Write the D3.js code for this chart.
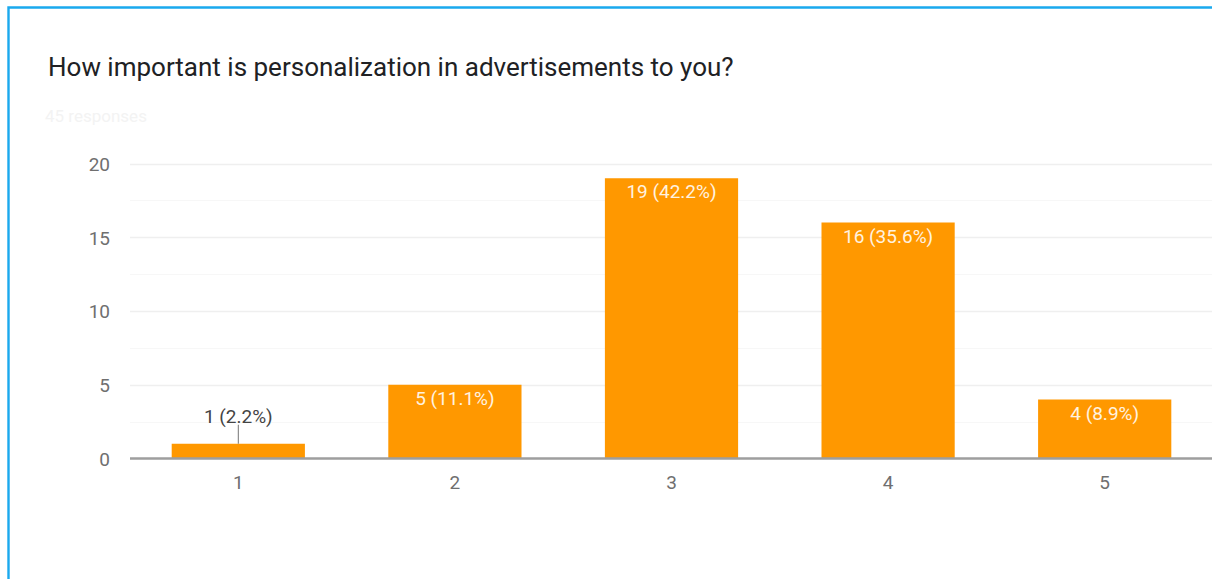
<!DOCTYPE html>
<html>
<head>
<meta charset="utf-8">
<script src="https://cdn.jsdelivr.net/npm/d3@7"></script>
<style>
  html, body { margin: 0; padding: 0; background: #fff; }
  svg { display: block; }
</style>
</head>
<body>
<svg id="chart" width="1212" height="579"></svg>
<script>
// Survey answers on a 1–5 scale and how many respondents chose each
const categories = ["1", "2", "3", "4", "5"];
const counts = [1, 5, 19, 16, 4];
const percents = ["2.2%", "11.1%", "42.2%", "35.6%", "8.9%"];
const yTicks = [0, 5, 10, 15, 20];
const yMinorTicks = [2.5, 7.5, 12.5, 17.5];
const title = "How important is personalization in advertisements to you?";
const subtitle = "45 responses";

const svg = d3.select("#chart");
const W = 1212, H = 579;
const font = "Roboto, Arial, sans-serif";
const labelSize = 19;

// Card outline (blue focus border)
svg.append("path")
  .attr("d", `M8.5,${H} L8.5,7.5 L${W},7.5`)
  .attr("fill", "none")
  .attr("stroke", "#1aa9ee")
  .attr("stroke-width", 2.4);

svg.append("text")
  .attr("x", 48).attr("y", 76)
  .attr("font-family", font).attr("font-size", 26)
  .attr("fill", "#202124")
  .text(title);

svg.append("text")
  .attr("x", 45).attr("y", 122)
  .attr("font-family", font).attr("font-size", 17)
  .attr("fill", "#f3f3f3")
  .text(subtitle);

const plot = { left: 130, right: 1213, top: 163.5, bottom: 458.5 };

const x = d3.scaleBand()
  .domain(categories)
  .range([plot.left, plot.right])
  .paddingInner(0.385)
  .paddingOuter(0.1925);

const y = d3.scaleLinear()
  .domain([0, 20])
  .range([plot.bottom, plot.top]);

// Minor and major gridlines
svg.append("g").selectAll("line.minor")
  .data(yMinorTicks).join("line")
  .attr("x1", plot.left).attr("x2", plot.right)
  .attr("y1", d => Math.round(y(d)) + 0.5).attr("y2", d => Math.round(y(d)) + 0.5)
  .attr("stroke", "#f7f7f7").attr("stroke-width", 1);

svg.append("g").selectAll("line.major")
  .data(yTicks.filter(d => d > 0)).join("line")
  .attr("x1", plot.left).attr("x2", plot.right)
  .attr("y1", d => Math.round(y(d)) + 0.5).attr("y2", d => Math.round(y(d)) + 0.5)
  .attr("stroke", "#efefef").attr("stroke-width", 1.5);

// Y axis labels
const yAxis = d3.axisLeft(y).tickValues(yTicks).tickSize(0).tickPadding(0);
const gy = svg.append("g")
  .attr("transform", `translate(${plot.left - 20},0)`)
  .call(yAxis);
gy.select(".domain").remove();
gy.selectAll("text")
  .attr("font-family", font).attr("font-size", labelSize)
  .attr("fill", "#6f6f6f").attr("dy", "0.36em");

// Bars
svg.append("g").selectAll("rect")
  .data(counts).join("rect")
  .attr("x", (d, i) => x(categories[i]))
  .attr("width", x.bandwidth())
  .attr("y", d => y(d))
  .attr("height", d => y(0) - y(d))
  .attr("fill", "#ff9800");

// Baseline
svg.append("line")
  .attr("x1", plot.left).attr("x2", plot.right)
  .attr("y1", y(0)).attr("y2", y(0))
  .attr("stroke", "#9e9e9e").attr("stroke-width", 2.5);

// X axis labels
const xAxis = d3.axisBottom(x).tickSize(0).tickPadding(0);
const gx = svg.append("g")
  .attr("transform", `translate(0,${plot.bottom + 30})`)
  .call(xAxis);
gx.select(".domain").remove();
gx.selectAll("text")
  .attr("font-family", font).attr("font-size", labelSize)
  .attr("fill", "#6f6f6f").attr("dy", 0);

// Value labels: inside tall bars, above short ones with a leader line
const labels = svg.append("g");
counts.forEach((v, i) => {
  const cx = x(categories[i]) + x.bandwidth() / 2;
  const txt = `${v} (${percents[i]})`;
  const barH = y(0) - y(v);
  if (barH > 30) {
    labels.append("text")
      .attr("x", cx).attr("y", y(v) + 20)
      .attr("text-anchor", "middle")
      .attr("font-family", font).attr("font-size", labelSize)
      .attr("fill", "#fff3e0")
      .text(txt);
  } else {
    labels.append("line")
      .attr("x1", cx).attr("x2", cx)
      .attr("y1", y(v)).attr("y2", y(v) - 19)
      .attr("stroke", "#757575").attr("stroke-width", 1);
    labels.append("text")
      .attr("x", cx).attr("y", y(v) - 21)
      .attr("text-anchor", "middle")
      .attr("font-family", font).attr("font-size", labelSize)
      .attr("fill", "#444")
      .text(txt);
  }
});
</script>
</body>
</html>
